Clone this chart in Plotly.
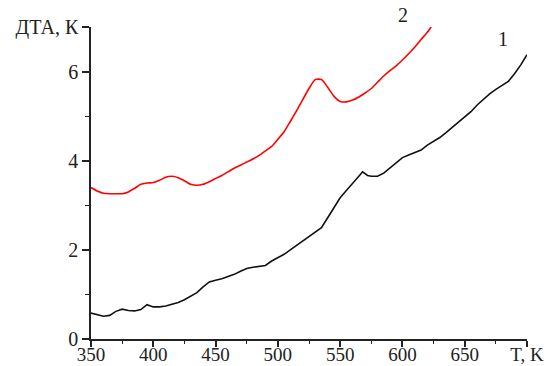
import plotly.graph_objects as go

# Temperature grid, K
T1 = [350, 355, 360, 365, 370, 375, 380, 385, 390, 395, 400, 405, 410, 415, 420,
      425, 430, 435, 440, 445, 450, 455, 460, 465, 470, 475, 480, 485, 490, 495,
      500, 505, 510, 515, 520, 525, 530, 535, 540, 545, 550, 555, 560, 565, 568,
      572, 575, 580, 585, 590, 595, 600, 605, 610, 615, 620, 625, 630, 635, 640,
      645, 650, 655, 660, 665, 670, 675, 680, 685, 690, 695, 700]
# Curve 1, DTA signal, K
DTA1 = [0.58, 0.55, 0.51, 0.53, 0.62, 0.67, 0.64, 0.63, 0.66, 0.77, 0.72, 0.72, 0.74, 0.78, 0.82,
        0.88, 0.97, 1.04, 1.17, 1.28, 1.32, 1.35, 1.40, 1.45, 1.52, 1.58, 1.61, 1.63, 1.65, 1.75,
        1.83, 1.90, 2.00, 2.10, 2.20, 2.30, 2.40, 2.50, 2.72, 2.95, 3.17, 3.33, 3.48, 3.65, 3.75,
        3.67, 3.65, 3.65, 3.72, 3.83, 3.95, 4.07, 4.13, 4.18, 4.24, 4.35, 4.43, 4.52, 4.63, 4.75,
        4.88, 4.98, 5.10, 5.25, 5.38, 5.50, 5.60, 5.70, 5.78, 5.95, 6.15, 6.38]

T2 = [350, 355, 360, 365, 370, 375, 380, 385, 390, 395, 400, 405, 410, 415, 420,
      425, 430, 435, 440, 445, 450, 455, 460, 465, 470, 475, 480, 485, 490, 495,
      500, 505, 510, 515, 520, 525, 530, 535, 540, 545, 550, 555, 560, 565, 570,
      575, 580, 585, 590, 595, 600, 605, 610, 615, 620, 623]
# Curve 2, DTA signal, K
DTA2 = [3.40, 3.32, 3.27, 3.26, 3.26, 3.26, 3.30, 3.38, 3.47, 3.50, 3.51, 3.56, 3.63, 3.65, 3.62,
        3.55, 3.47, 3.45, 3.47, 3.53, 3.60, 3.67, 3.75, 3.83, 3.90, 3.97, 4.04, 4.12, 4.22, 4.32,
        4.48, 4.65, 4.88, 5.12, 5.37, 5.62, 5.82, 5.82, 5.65, 5.45, 5.33, 5.32, 5.36, 5.43, 5.52,
        5.62, 5.76, 5.90, 6.02, 6.13, 6.26, 6.40, 6.55, 6.72, 6.88, 7.00]

x_ticks = [350, 400, 450, 500, 550, 600, 650, 700]
x_labels = ["350", "400", "450", "500", "550", "600", "650", "T, K"]
y_ticks = [0, 2, 4, 6, 7]
y_labels = ["0", "2", "4", "6", "ДТА, К"]

curve_labels = ["1", "2"]
label_pos = [(686, 6.45), (606, 6.98)]

FONT = "Times New Roman"
INK = "#222222"

fig = go.Figure()
fig.add_trace(go.Scatter(x=T1, y=DTA1, mode="lines",
                         line=dict(color="#111111", width=1.6)))
fig.add_trace(go.Scatter(x=T2, y=DTA2, mode="lines",
                         line=dict(color="#ff0000", width=1.6, shape="spline", smoothing=0.6)))

for txt, (lx, ly) in zip(curve_labels, label_pos):
    fig.add_annotation(x=lx, y=ly, text=txt, showarrow=False,
                       xanchor="right", yanchor="bottom",
                       font=dict(family=FONT, size=20, color=INK))

fig.update_layout(
    width=551, height=366,
    margin=dict(l=91, r=24, t=27, b=27),
    paper_bgcolor="white", plot_bgcolor="white",
    showlegend=False,
    font=dict(family=FONT, size=20, color=INK),
)
fig.update_xaxes(
    range=[350, 700], tickvals=x_ticks, ticktext=x_labels,
    showgrid=False, zeroline=False, showline=True, linecolor=INK, linewidth=1.5,
    ticks="outside", ticklen=6, tickwidth=1.5, tickcolor=INK,
    ticklabelstandoff=-9, tickfont=dict(family=FONT, size=19, color=INK),
    minor=dict(ticks="outside", ticklen=3, tickwidth=1.2, dtick=25, tick0=350, tickcolor=INK),
    automargin=False,
)
fig.update_yaxes(
    range=[0, 7], tickvals=y_ticks, ticktext=y_labels,
    showgrid=False, zeroline=False, showline=True, linecolor=INK, linewidth=1.5,
    ticks="outside", ticklen=7, tickwidth=1.5, tickcolor=INK,
    tickfont=dict(family=FONT, size=20, color=INK),
    minor=dict(ticks="outside", ticklen=4, tickwidth=1.2, dtick=1, tick0=0, tickcolor=INK),
    automargin=False,
)

fig.write_html("out.html")
